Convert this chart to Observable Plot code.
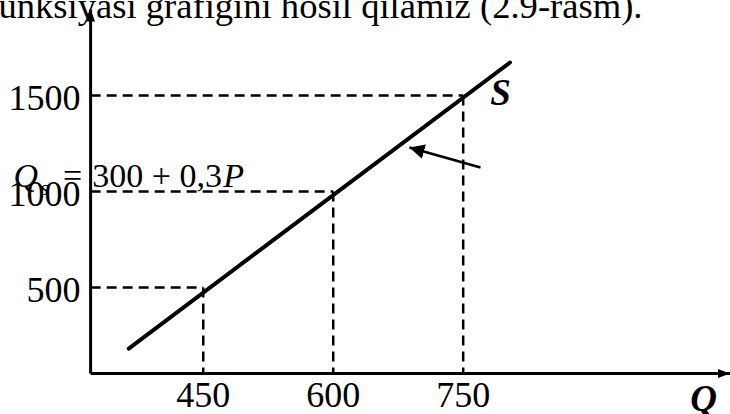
<!DOCTYPE html>
<html><head><meta charset="utf-8">
<script src="https://cdn.jsdelivr.net/npm/d3@7"></script>
<script src="https://cdn.jsdelivr.net/npm/@observablehq/plot@0.6"></script>
<style>html,body{margin:0;padding:0;background:#fff;overflow:hidden}</style>
</head><body><div id="chart"></div>
<script>
// ---- data ----
const qTicks = [450, 600, 750];          // quantity tick labels
const pTicks = [500, 1000, 1500];        // price tick labels
const supplyQ = [364, 804];              // supply line endpoints (Q)
const supplyP = [182, 1672];             // supply line endpoints (P)
const axisOrigin = [320, 52];            // where the axes meet (Q, P)
const axisEnd = [1058, 1948];            // axis arrow tips (Q max, P max)
const pointerFrom = [770, 1125];         // annotation arrow tail (Q, P)
const pointerTo = [688, 1229];           // annotation arrow tip (Q, P)
const labelS = [793, 1453];              // "S" label
const formulaP = 1021;                   // baseline of formula
const formulaQ = [231, 262, 288, 322, 473]; // Q, s, =, 300 + 0,3, P
const title = "funksiyasi grafigini hosil qilamiz (2.9-rasm).";
const xLabel = "Q";
const xLabelPos = [1012, -141];

const svgns = "http://www.w3.org/2000/svg";
function arrowHead(len, half) {
  return (color, context) => {
    const doc = (context && context.document) || document;
    const m = doc.createElementNS(svgns, "marker");
    m.setAttribute("viewBox", `${-len} ${-half} ${len} ${2 * half}`);
    m.setAttribute("markerUnits", "userSpaceOnUse");
    m.setAttribute("markerWidth", len);
    m.setAttribute("markerHeight", 2 * half);
    m.setAttribute("orient", "auto");
    m.setAttribute("refX", 0);
    m.setAttribute("refY", 0);
    const p = doc.createElementNS(svgns, "path");
    p.setAttribute("d", `M${-len},${-half}L0,0L${-len},${half}Z`);
    p.setAttribute("fill", color === "currentColor" ? "black" : color);
    p.setAttribute("stroke", "none");
    m.appendChild(p);
    return m;
  };
}

const [q0, p0] = axisOrigin;
const hDash = pTicks.map((p, i) => ({x1: q0, y1: p, x2: qTicks[i], y2: p}));
const vDash = qTicks.map((q, i) => ({x1: q, y1: pTicks[i], x2: q, y2: p0}));
const supply = supplyQ.map((q, i) => ({q, p: supplyP[i]}));
const axes = [
  {x1: q0, y1: p0, x2: axisEnd[0], y2: p0},
  {x1: q0, y1: p0, x2: q0, y2: axisEnd[1]}
];
const pointer = [{x1: pointerFrom[0], y1: pointerFrom[1], x2: pointerTo[0], y2: pointerTo[1]}];

const font = "Liberation Serif, Times New Roman, serif";

const chart = Plot.plot({
  width: 730,
  height: 414,
  margin: 0,
  style: {fontFamily: font, background: "#fff", color: "black"},
  x: {type: "linear", domain: [216, 1058.5], range: [0, 730], axis: null},
  y: {type: "linear", domain: [-161.5, 1995], range: [414, 0], axis: null},
  marks: [
    Plot.link(hDash, {x1: "x1", y1: "y1", x2: "x2", y2: "y2", stroke: "black", strokeWidth: 2.5, strokeDasharray: "10,6"}),
    Plot.link(vDash, {x1: "x1", y1: "y1", x2: "x2", y2: "y2", stroke: "black", strokeWidth: 2.5, strokeDasharray: "10,6"}),
    Plot.link(axes, {x1: "x1", y1: "y1", x2: "x2", y2: "y2", stroke: "black", strokeWidth: 3, markerEnd: arrowHead(12, 4.5)}),
    Plot.line(supply, {x: "q", y: "p", stroke: "black", strokeWidth: 4}),
    Plot.link(pointer, {x1: "x1", y1: "y1", x2: "x2", y2: "y2", stroke: "black", strokeWidth: 2.5, markerEnd: arrowHead(15, 7.5)}),
    // tick labels
    Plot.text(pTicks, {x: () => q0, y: d => d, text: d => String(d), textAnchor: "end", dx: -10, dy: 3, fontSize: 36, fill: "black"}),
    Plot.text(qTicks, {x: d => d, y: () => p0, text: d => String(d), lineAnchor: "bottom", dy: 33, fontSize: 36, fill: "black"}),
    // formula Qs = 300 + 0,3P
    Plot.text(["Q"], {x: () => formulaQ[0], y: () => formulaP, text: d => d, textAnchor: "start", lineAnchor: "bottom", fontSize: 34, fontStyle: "italic", fill: "black"}),
    Plot.text(["s"], {x: () => formulaQ[1], y: () => formulaP, text: d => d, textAnchor: "start", lineAnchor: "bottom", dy: 8, fontSize: 22, fontStyle: "italic", fill: "black"}),
    Plot.text(["="], {x: () => formulaQ[2], y: () => formulaP, text: d => d, textAnchor: "start", lineAnchor: "bottom", fontSize: 34, fill: "black"}),
    Plot.text(["300 + 0,3"], {x: () => formulaQ[3], y: () => formulaP, text: d => d, textAnchor: "start", lineAnchor: "bottom", fontSize: 34, fill: "black"}),
    Plot.text(["P"], {x: () => formulaQ[4], y: () => formulaP, text: d => d, textAnchor: "start", lineAnchor: "bottom", fontSize: 34, fontStyle: "italic", fill: "black"}),
    // S label
    Plot.text(["S"], {x: () => labelS[0], y: () => labelS[1], text: d => d, lineAnchor: "bottom", fontSize: 37, fontStyle: "italic", fontWeight: "bold", fill: "black"}),
    // Q axis label
    Plot.text([xLabel], {x: () => xLabelPos[0], y: () => xLabelPos[1], text: d => d, textAnchor: "start", lineAnchor: "bottom", fontSize: 37, fontStyle: "italic", fontWeight: "bold", fill: "black"}),
    // cropped body text at top
    Plot.text([title], {frameAnchor: "top-right", text: d => d, textAnchor: "end", lineAnchor: "bottom", dx: -88, dy: 17, fontSize: 36.6, fill: "black"})
  ]
});
document.getElementById("chart").appendChild(chart);
</script>
</body></html>
